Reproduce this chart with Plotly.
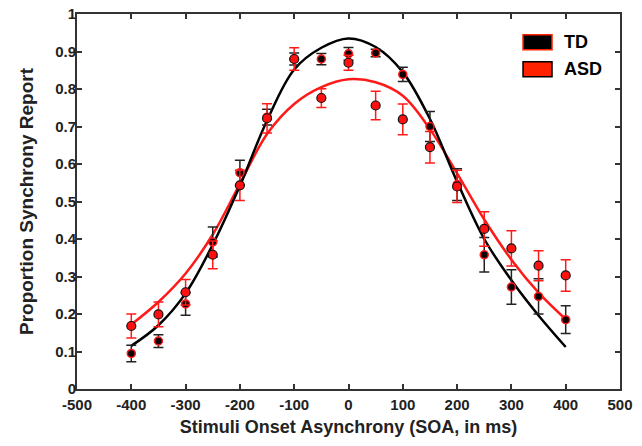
import plotly.graph_objects as go

# ---- data ----
soa = [-400, -350, -300, -250, -200, -150, -100, -50, 0, 50, 100, 150, 200, 250, 300, 350, 400]

td_mean = [0.095, 0.128, 0.227, 0.392, 0.577, 0.725, 0.880, 0.880, 0.894, 0.896, 0.839, 0.700, 0.545, 0.358, 0.272, 0.247, 0.185]
td_err = [0.022, 0.017, 0.030, 0.040, 0.033, 0.021, 0.016, 0.015, 0.017, 0.010, 0.019, 0.040, 0.042, 0.046, 0.046, 0.047, 0.037]

asd_mean = [0.168, 0.199, 0.258, 0.358, 0.543, 0.722, 0.880, 0.776, 0.870, 0.756, 0.719, 0.645, 0.540, 0.427, 0.375, 0.329, 0.303]
asd_err = [0.032, 0.033, 0.034, 0.037, 0.040, 0.039, 0.030, 0.025, 0.020, 0.038, 0.041, 0.042, 0.043, 0.046, 0.047, 0.040, 0.042]

# fitted curves
fit_x = [-400, -350, -300, -250, -200, -150, -100, -50, 0, 50, 100, 150, 200, 250, 300, 350, 400]
td_fit = [0.115, 0.170, 0.255, 0.385, 0.542, 0.716, 0.852, 0.910, 0.935, 0.912, 0.845, 0.720, 0.553, 0.400, 0.290, 0.196, 0.112]
asd_fit = [0.172, 0.232, 0.308, 0.412, 0.547, 0.680, 0.760, 0.805, 0.826, 0.818, 0.782, 0.693, 0.575, 0.452, 0.345, 0.257, 0.186]

x_ticks = [-500, -400, -300, -200, -100, 0, 100, 200, 300, 400, 500]
x_tick_text = ["-500", "-400", "-300", "-200", "-100", "0", "100", "200", "300", "400", "500"]
y_ticks = [0, 0.1, 0.2, 0.3, 0.4, 0.5, 0.6, 0.7, 0.8, 0.9, 1]
y_tick_text = ["0", "0.1", "0.2", "0.3", "0.4", "0.5", "0.6", "0.7", "0.8", "0.9", "1"]

legend_names = ["TD", "ASD"]
legend_fill = ["#000000", "#ff2200"]
legend_edge = ["#ff2200", "#000000"]

RED = "#ff1a1a"
FONT = "Liberation Sans, Arial, sans-serif"

fig = go.Figure()

# fitted curves
fig.add_trace(go.Scatter(x=fit_x, y=asd_fit, mode="lines", line=dict(color=RED, width=2.5, shape="spline"),
                         showlegend=False, hoverinfo="skip"))
fig.add_trace(go.Scatter(x=fit_x, y=td_fit, mode="lines", line=dict(color="black", width=2.5, shape="spline"),
                         showlegend=False, hoverinfo="skip"))

# TD points (black error bars, black markers with red rim)
fig.add_trace(go.Scatter(x=soa, y=td_mean, mode="markers",
                         error_y=dict(type="data", array=td_err, color="#222222", thickness=1.5, width=5),
                         marker=dict(size=8, color="#0a0000", line=dict(color="#ff1a1a", width=1.5)),
                         showlegend=False))

# ASD points (red error bars, red markers with black edge)
fig.add_trace(go.Scatter(x=soa, y=asd_mean, mode="markers",
                         error_y=dict(type="data", array=asd_err, color=RED, thickness=1.5, width=5),
                         marker=dict(size=9, color="#ff1010", line=dict(color="#111111", width=1.2)),
                         showlegend=False))

# legend drawn as boxes + labels
box_x0, box_x1 = 0.8214, 0.8748
rows_y = [0.925, 0.853]
for name, fill, edge, yc in zip(legend_names, legend_fill, legend_edge, rows_y):
    fig.add_shape(type="rect", xref="paper", yref="paper", x0=box_x0, x1=box_x1,
                  y0=yc - 0.02, y1=yc + 0.02, fillcolor=fill, line=dict(color=edge, width=1.5),
                  layer="above")
    fig.add_annotation(xref="paper", yref="paper", x=0.893, y=yc, text="<b>%s</b>" % name,
                       showarrow=False, xanchor="left", yanchor="middle",
                       font=dict(family=FONT, size=18, color="black"))

axis_common = dict(showgrid=False, zeroline=False, showline=True, linecolor="#333333", linewidth=2,
                   mirror="ticks", ticks="inside", ticklen=5, tickwidth=1.5, tickcolor="#333333",
                   automargin=False,
                   tickfont=dict(family=FONT, size=15, color="#222222"))

fig.update_xaxes(range=[-500, 500], tickvals=x_ticks, ticktext=["<b>%s</b>" % t for t in x_tick_text],
                 ticklabelstandoff=1,
                 title=dict(text="<b>Stimuli Onset Asynchrony (SOA, in ms)</b>",
                            font=dict(family=FONT, size=18, color="#222222"), standoff=8),
                 **axis_common)
fig.update_yaxes(range=[0, 1], tickvals=y_ticks, ticktext=["<b>%s</b>" % t for t in y_tick_text],
                 ticklabelstandoff=-4,
                 title=dict(text="<b>Proportion Synchrony Report</b>",
                            font=dict(family=FONT, size=19, color="#222222"), standoff=16),
                 **axis_common)

fig.update_layout(width=642, height=446, margin=dict(l=77, r=22, t=14, b=57, pad=0),
                  plot_bgcolor="white", paper_bgcolor="white", showlegend=False)

fig.write_html("out.html", config={"displayModeBar": False},
               post_script="document.body.style.margin='0';")
